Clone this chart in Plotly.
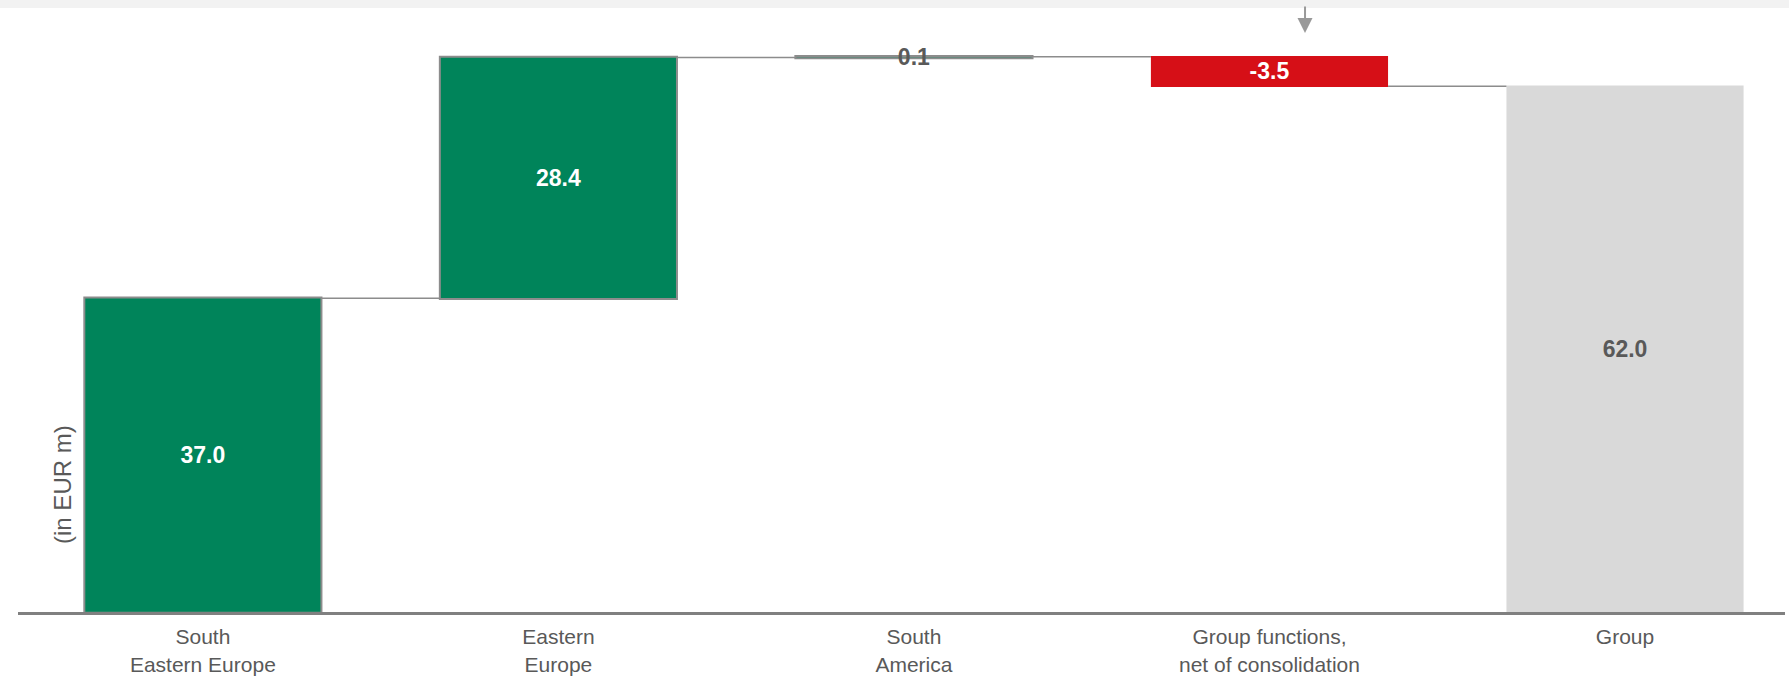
import plotly.graph_objects as go

categories = ["South<br>Eastern Europe", "Eastern<br>Europe", "South<br>America",
              "Group functions,<br>net of consolidation", "Group"]
values = [37.0, 28.4, 0.1, -3.5, 62.0]
measures = ["relative", "relative", "relative", "relative", "total"]
labels = [f"<b>{v:.1f}</b>" for v in values]
label_colors = ["white", "white", "#595959", "white", "#595959"]

W, H = 1789, 679
ml, mr, mt, mb = 18, 4, 10, 67
yr = [0, 71]
xr = [-0.52, 4.45]
FONT = "Liberation Sans, Arial, sans-serif"

fig = go.Figure(go.Waterfall(
    x=list(range(len(categories))),
    y=values,
    measure=measures,
    text=labels,
    textinfo="text",
    textposition="inside",
    insidetextanchor="middle",
    constraintext="none",
    textfont=dict(family=FONT, size=23, color=label_colors),
    increasing=dict(marker=dict(color="#00845A", line=dict(color="#8C8C8C", width=2))),
    decreasing=dict(marker=dict(color="#D60F17", line=dict(color="#D60F17", width=0))),
    totals=dict(marker=dict(color="#D9D9D9", line=dict(color="#D9D9D9", width=0))),
    connector=dict(line=dict(color="#8C8C8C", width=1.5)),
    width=0.667,
    hoverinfo="skip",
))

fig.update_layout(
    width=W, height=H,
    margin=dict(l=ml, r=mr, t=mt, b=mb, autoexpand=False),
    plot_bgcolor="white", paper_bgcolor="white",
    showlegend=False,
    font=dict(family=FONT, color="#595959"),
    xaxis=dict(
        range=xr, tickmode="array", tickvals=list(range(len(categories))),
        ticktext=categories, showgrid=False, zeroline=False,
        showline=True, linecolor="#808080", linewidth=3,
        ticks="", tickfont=dict(size=21, color="#595959"),
        ticklabelstandoff=4,
        automargin=False, fixedrange=True,
    ),
    yaxis=dict(range=yr, visible=False, showgrid=False, zeroline=False,
               automargin=False, fixedrange=True),
)

ph = H - mt - mb
pw = W - ml - mr
# light grey header band at the very top of the page
fig.add_shape(type="rect", xref="paper", yref="paper",
              x0=-ml / pw, x1=1 + mr / pw,
              y0=1 + (mt - 8) / ph, y1=1 + mt / ph,
              fillcolor="#F2F2F2", line=dict(width=0), layer="below")

# y axis unit label
fig.add_annotation(x=-0.393, y=15, xref="x", yref="y", text="(in EUR m)",
                   textangle=-90, showarrow=False,
                   font=dict(size=24, color="#595959"))

# down arrow at the top
fig.add_annotation(x=3.1, y=68.3, xref="x", yref="y", text="",
                   showarrow=True, arrowhead=2, arrowsize=1.5, arrowwidth=2,
                   arrowcolor="#999999", ax=0, ay=-28)

fig.write_html("out.html",
               config={"displayModeBar": False},
               post_script="document.body.style.margin='0';document.body.style.overflow='hidden';")
